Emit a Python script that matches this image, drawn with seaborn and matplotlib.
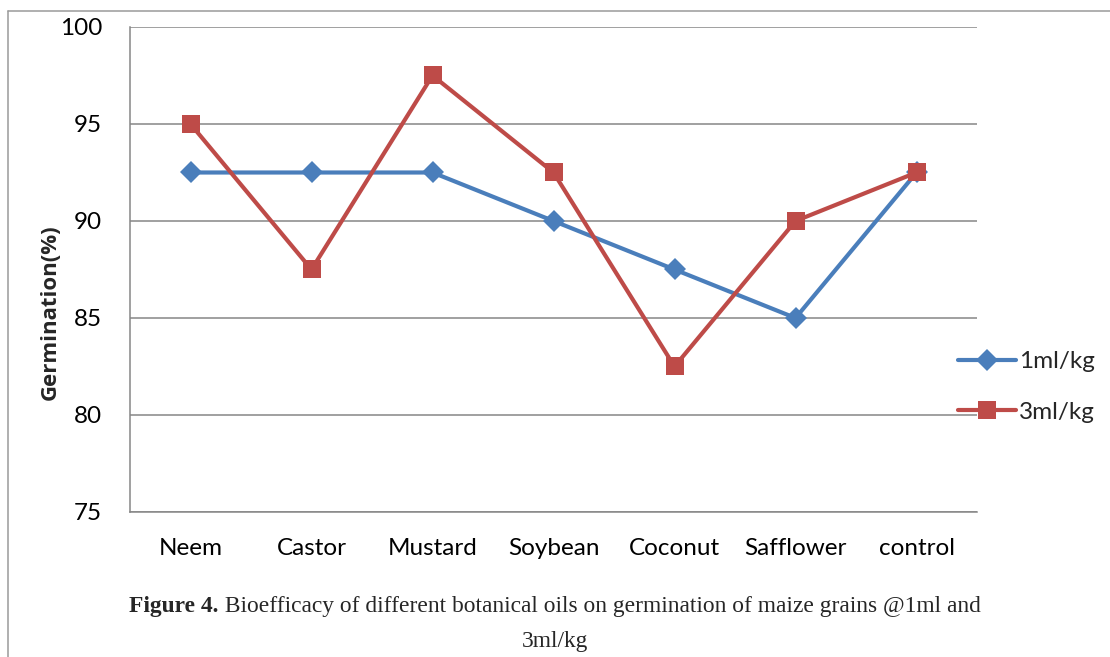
import matplotlib
matplotlib.use("Agg")
import matplotlib.pyplot as plt
from matplotlib.lines import Line2D
from matplotlib import font_manager
import seaborn as sns
import pandas as pd

# Germination (%) of maize grains after treatment with botanical oils
oils = ["Neem", "Castor", "Mustard", "Soybean", "Coconut", "Safflower", "control"]
dose_1ml = [92.5, 92.5, 92.5, 90.0, 87.5, 85.0, 92.5]
dose_3ml = [95.0, 87.5, 97.5, 92.5, 82.5, 90.0, 92.5]
series_names = ["1ml/kg", "3ml/kg"]
y_ticks = [75, 80, 85, 90, 95, 100]

df = pd.DataFrame({
    "oil": oils * 2,
    "germination": dose_1ml + dose_3ml,
    "dose": [series_names[0]] * len(oils) + [series_names[1]] * len(oils),
})

sns.set_theme(style="white")
plt.rcParams["font.family"] = ["Lato", "DejaVu Sans"]

W, H, DPI = 1110, 657, 100
fig = plt.figure(figsize=(W / DPI, H / DPI), dpi=DPI)
fig.patch.set_facecolor("white")

ax = fig.add_axes([130 / W, 1 - 512 / H, (977 - 130) / W, (512 - 27) / H])

blue = "#4A7EBB"
red = "#BE4B48"
grid_c = "#868686"

styles = {
    series_names[0]: dict(color=blue, marker="D", markersize=11),
    series_names[1]: dict(color=red, marker="s", markersize=12.5),
}

for name in series_names:
    sub = df[df["dose"] == name]
    st = styles[name]
    sns.lineplot(data=sub, x="oil", y="germination", ax=ax, sort=False,
                 color=st["color"], marker=st["marker"],
                 markersize=st["markersize"], markeredgewidth=0,
                 linewidth=3.0, label=name)

ax.set_xlim(-0.5, len(oils) - 0.5)
ax.set_ylim(75, 100)
ax.set_yticks(y_ticks)
ax.set_xticks(range(len(oils)))
ax.set_xticklabels(oils)

ax.yaxis.grid(True, color=grid_c, linewidth=1.1)
ax.xaxis.grid(False)
ax.set_axisbelow(True)
for side in ["top", "right"]:
    ax.spines[side].set_visible(False)
for side in ["left", "bottom"]:
    ax.spines[side].set_color(grid_c)
    ax.spines[side].set_linewidth(1.1)

ax.tick_params(axis="both", length=0, labelsize=17.5, colors="black")
ax.tick_params(axis="y", pad=20)
ax.tick_params(axis="x", pad=19)

ax.set_xlabel("")
ax.set_ylabel("")
bold_font = font_manager.FontProperties(family=["Open Sans", "DejaVu Sans"],
                                        weight="bold", size=16)
fig.text(50 / W, 1 - 312 / H, "Germination(%)", fontproperties=bold_font,
         rotation=90, ha="center", va="center")

ax.legend(loc="center left", bbox_to_anchor=(958 / W, 1 - 387 / H),
          bbox_transform=fig.transFigure, frameon=False, fontsize=17.5,
          handlelength=2.4, handletextpad=0.1, labelspacing=1.2,
          borderaxespad=0, borderpad=0)

# page frame lines
fig.add_artist(Line2D([8 / W, 8 / W], [0, 1 - 11 / H], transform=fig.transFigure,
                      color="#9a9a9a", linewidth=1.1))
fig.add_artist(Line2D([8 / W, 1], [1 - 11 / H, 1 - 11 / H], transform=fig.transFigure,
                      color="#9a9a9a", linewidth=1.1))

# caption
serif = ["Liberation Serif", "DejaVu Serif"]
cap_size = 16.9
renderer = fig.canvas.get_renderer()
bold_part = "Figure 4."
rest_part = " Bioefficacy of different botanical oils on germination of maize grains @1ml and"
t1 = fig.text(0, 1 - 612 / H, bold_part, fontsize=cap_size, fontweight="bold",
              family=serif, va="baseline", ha="left")
t2 = fig.text(0, 1 - 612 / H, rest_part, fontsize=cap_size, family=serif,
              va="baseline", ha="left")
w1 = t1.get_window_extent(renderer).width
w2 = t2.get_window_extent(renderer).width
cx = 555
x0 = cx - (w1 + w2) / 2
t1.set_x(x0 / W)
t2.set_x((x0 + w1) / W)
fig.text(cx / W, 1 - 647 / H, "3ml/kg", fontsize=cap_size, family=serif,
         va="baseline", ha="center")

fig.savefig("out.png", dpi=DPI)
